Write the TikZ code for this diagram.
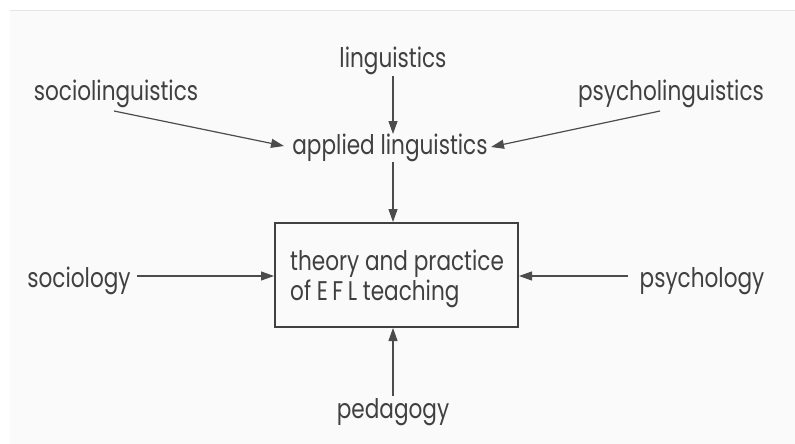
\documentclass[tikz,border=0pt]{standalone}
\usepackage{fontspec}
\setmainfont[FakeStretch=0.8]{Poppins}
\usetikzlibrary{arrows.meta}
\tikzset{
  lbl/.style={font=\fontsize{27}{30}\selectfont, text=black!75, inner sep=0pt},
  arr/.style={draw=black!70, line width=1.2pt, -{Triangle[length=13pt,width=9pt]}},
  mainbox/.style={draw=black!75, line width=1.5pt, minimum width=243pt, minimum height=104pt, inner sep=0pt}
}
\begin{document}
\begin{tikzpicture}[x=1pt,y=-1pt]
\useasboundingbox (0,0) rectangle (795,444);
\fill[white] (0,0) rectangle (795,444);
\fill[black!2] (10,10) rectangle (795,444);
\draw[black!10, line width=0.8pt] (10,10) -- (795,10);
\node[lbl] (ling) at (393,61) {linguistics};
\node[lbl] (socling) at (116,94) {sociolinguistics};
\node[lbl] (psyling) at (671,94) {psycholinguistics};
\node[lbl] (appl) at (390,148) {applied linguistics};
\node[mainbox] (box) at (396.5,275) {};
\node[lbl, align=left, anchor=west] (boxtxt) at (290,279) {theory and practice\\of E\,F\,L teaching};
\node[lbl] (soc) at (79,281) {sociology};
\node[lbl] (psy) at (702,281) {psychology};
\node[lbl] (ped) at (393,412) {pedagogy};
\coordinate (lingS) at (393,76);
\coordinate (applN) at (393,134);
\coordinate (soclingS) at (114,111);
\coordinate (applW) at (284,146);
\coordinate (psylingS) at (660,111);
\coordinate (applE) at (491,147);
\coordinate (applS) at (393,162);
\coordinate (boxN) at (393,222);
\coordinate (socE) at (137,276);
\coordinate (boxW) at (274,276);
\coordinate (psyW) at (628,276);
\coordinate (boxE) at (519,276);
\coordinate (pedN) at (393,396);
\coordinate (boxS) at (393,328);
\draw[arr] (lingS) -- (applN);
\draw[arr] (soclingS) -- (applW);
\draw[arr] (psylingS) -- (applE);
\draw[arr] (applS) -- (boxN);
\draw[arr] (socE) -- (boxW);
\draw[arr] (psyW) -- (boxE);
\draw[arr] (pedN) -- (boxS);
\end{tikzpicture}
\end{document}
